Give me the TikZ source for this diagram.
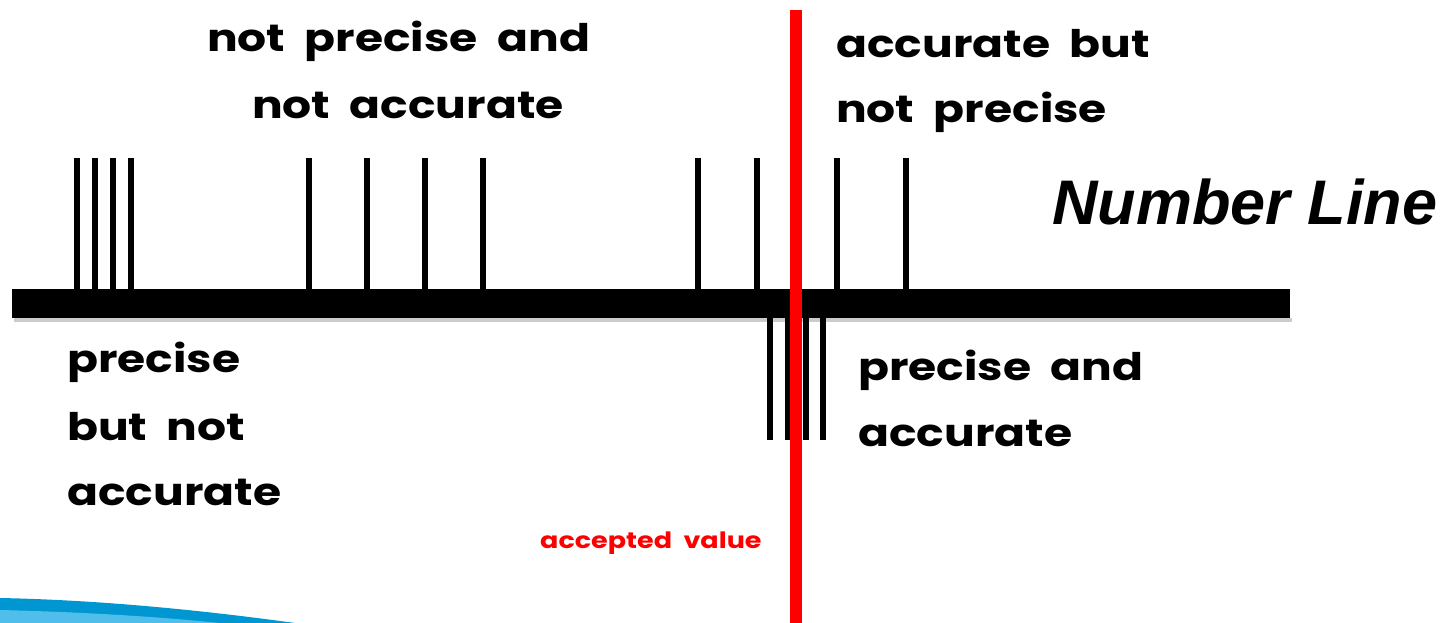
\documentclass[tikz,border=0pt]{standalone}
\usepackage{fontspec}
\newfontfamily\comicf{Poppins}[FakeStretch=1.2, WordSpace=2]
\newfontfamily\arialbi{Liberation Sans}[UprightFont={* Bold Italic}]
\definecolor{swoosh}{RGB}{0,150,210}
\definecolor{swooshlight}{RGB}{80,190,235}
\begin{document}
\begin{tikzpicture}[x=1pt,y=-1pt,
  lbl/.style={font=\comicf\bfseries\fontsize{38}{46}\selectfont, anchor=base west, inner sep=0pt},
  tickmark/.style={line width=6pt},
  ]
\useasboundingbox (0,0) rectangle (1455,623);
\fill[white] (0,0) rectangle (1455,623);
% blue swoosh
\fill[swoosh] (0,598) .. controls (100,600) and (200,610) .. (295,623) -- (0,623) -- cycle;
\fill[swooshlight] (0,610) .. controls (80,612) and (150,616) .. (220,623) -- (0,623) -- cycle;
% number line bar
\fill[black!20] (14,318) rectangle (1292,322);
\fill[black] (12,289) rectangle (1290,318);
% ticks above
\foreach \x in {77,95,113,131,309,367,425,483,698,757,837,906}
  \draw[tickmark] (\x,158) -- (\x,289);
% ticks below
\foreach \x in {770,788,806,823}
  \draw[tickmark] (\x,318) -- (\x,440);
% accepted value line
\fill[red] (790,10) rectangle (802,623);
% labels
\node[lbl] (npna1) at (207,52) {not precise and};
\node[lbl] (npna2) at (252,118) {not accurate};
\node[lbl] (abnp1) at (836,58) {accurate but};
\node[lbl] (abnp2) at (836,123) {not precise};
\node[lbl] (pbna1) at (67,372) {precise};
\node[lbl] (pbna2) at (67,440) {but not};
\node[lbl] (pbna3) at (67,505) {accurate};
\node[lbl] (pa1) at (858,380) {precise and};
\node[lbl] (pa2) at (858,446) {accurate};
\node[lbl, text=red, font=\comicf\bfseries\fontsize{22.5}{28}\selectfont] (acc) at (540,548) {accepted value};
\node[anchor=base west, inner sep=0pt, font=\arialbi\fontsize{63}{72}\selectfont] (nl) at (1052,224) {Number Line};
\end{tikzpicture}
\end{document}
